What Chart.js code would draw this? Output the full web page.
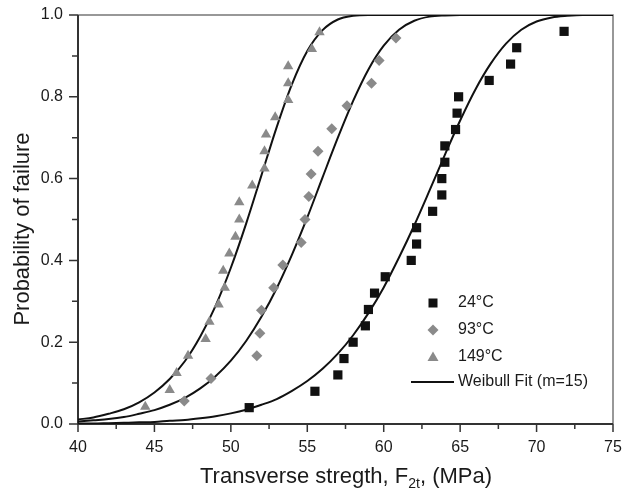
<!DOCTYPE html>
<html>
<head>
<meta charset="utf-8">
<script src="https://cdn.jsdelivr.net/npm/chart.js@4/dist/chart.umd.min.js"></script>
<style>
  html, body { margin: 0; padding: 0; background: #fff; }
</style>
</head>
<body>
<canvas id="c" width="634" height="494"></canvas>
<script>
// measured points (strength MPa, probability of failure)
var str24 = [51.2, 55.5, 57.0, 57.4, 58.0, 58.8, 59.0, 59.4, 60.1, 61.8, 62.15, 62.15, 63.2, 63.8, 63.8, 64.0, 64.0, 64.7, 64.8, 64.9, 66.9, 68.3, 68.7, 71.8];
var prob24 = [0.04, 0.08, 0.12, 0.16, 0.20, 0.24, 0.28, 0.32, 0.36, 0.40, 0.44, 0.48, 0.52, 0.56, 0.60, 0.64, 0.68, 0.72, 0.76, 0.80, 0.84, 0.88, 0.92, 0.96];

var str93 = [46.95, 48.7, 51.7, 51.9, 52.0, 52.8, 53.4, 54.6, 54.85, 55.1, 55.25, 55.7, 56.6, 57.6, 59.2, 59.7, 60.8];
var prob93 = [0.056, 0.111, 0.167, 0.222, 0.278, 0.333, 0.389, 0.444, 0.500, 0.556, 0.611, 0.667, 0.722, 0.778, 0.833, 0.889, 0.944];

var str149 = [44.4, 46.0, 46.45, 47.2, 48.35, 48.6, 49.2, 49.6, 49.5, 49.9, 50.3, 50.55, 50.55, 51.4, 52.2, 52.2, 52.3, 52.9, 53.75, 53.75, 53.75, 55.3, 55.8];
var prob149 = [0.042, 0.083, 0.125, 0.167, 0.208, 0.250, 0.292, 0.333, 0.375, 0.417, 0.458, 0.500, 0.542, 0.583, 0.625, 0.667, 0.708, 0.750, 0.792, 0.833, 0.875, 0.917, 0.958];

// fit curves, one value per MPa from 40 to 75
var fitX = [40, 41, 42, 43, 44, 45, 46, 47, 48, 49, 50, 51, 52, 53, 54, 55, 56, 57, 58, 59, 60, 61, 62, 63, 64, 65, 66, 67, 68, 69, 70, 71, 72, 73, 74, 75];
var fit149 = [0.011, 0.016, 0.025, 0.036, 0.053, 0.077, 0.110, 0.154, 0.214, 0.289, 0.382, 0.490, 0.608, 0.726, 0.831, 0.912, 0.963, 0.989, 0.998, 1, 1, 1, 1, 1, 1, 1, 1, 1, 1, 1, 1, 1, 1, 1, 1, 1];
var fit93 = [0.006, 0.009, 0.012, 0.017, 0.025, 0.034, 0.047, 0.064, 0.087, 0.117, 0.155, 0.203, 0.262, 0.332, 0.414, 0.505, 0.603, 0.700, 0.790, 0.867, 0.925, 0.964, 0.986, 0.996, 0.999, 1, 1, 1, 1, 1, 1, 1, 1, 1, 1, 1];
var fit24 = [0.001, 0.001, 0.002, 0.003, 0.004, 0.005, 0.008, 0.010, 0.014, 0.019, 0.026, 0.035, 0.047, 0.061, 0.081, 0.105, 0.135, 0.172, 0.217, 0.271, 0.334, 0.407, 0.486, 0.571, 0.658, 0.742, 0.818, 0.881, 0.930, 0.964, 0.984, 0.994, 0.998, 1, 1, 1];

var xTicks = [40, 45, 50, 55, 60, 65, 70, 75];
var yTicks = [0, 0.2, 0.4, 0.6, 0.8, 1.0];
var legendLabels = ['24°C', '93°C', '149°C', 'Weibull Fit (m=15)'];

var FONT = '"Liberation Sans", Arial, sans-serif';
var GREY = '#8a8a8a';

function pts(xs, ys) {
  return xs.map((x, i) => ({ x: x, y: ys[i] }));
}

function fitSet(ys) {
  return {
    type: 'line',
    data: pts(fitX, ys),
    borderColor: '#111',
    borderWidth: 2,
    pointRadius: 0,
    cubicInterpolationMode: 'monotone',
    fill: false,
    order: 2
  };
}

// box, minor/major ticks, titles and legend
var frame = {
  id: 'frame',
  beforeDatasetsDraw(chart) {
    var ctx = chart.ctx;
    var a = chart.chartArea;
    var xs = chart.scales.x, ys = chart.scales.y;
    ctx.save();
    ctx.strokeStyle = '#777';
    ctx.lineWidth = 1.5;
    ctx.beginPath();
    ctx.moveTo(a.left, a.top);
    ctx.lineTo(a.right, a.top);
    ctx.lineTo(a.right, a.bottom);
    ctx.stroke();
    ctx.strokeStyle = '#333';
    ctx.lineWidth = 2;
    ctx.beginPath();
    ctx.moveTo(a.left, a.top);
    ctx.lineTo(a.left, a.bottom);
    ctx.lineTo(a.right, a.bottom);
    ctx.stroke();
    ctx.lineWidth = 1.5;
    ctx.beginPath();
    for (var v = 40; v <= 75.01; v += 2.5) {
      var px = xs.getPixelForValue(v);
      var len = (v % 5 === 0) ? 8 : 5;
      ctx.moveTo(px, a.bottom);
      ctx.lineTo(px, a.bottom + len);
    }
    for (var i = 0; i <= 10; i++) {
      var py = ys.getPixelForValue(i / 10);
      var l2 = (i % 2 === 0) ? 9 : 6;
      ctx.moveTo(a.left, py);
      ctx.lineTo(a.left - l2, py);
    }
    ctx.stroke();
    ctx.restore();
  },
  afterDraw(chart) {
    var ctx = chart.ctx;
    ctx.save();
    ctx.fillStyle = '#1a1a1a';
    // y title
    ctx.font = '22px ' + FONT;
    ctx.textAlign = 'center';
    ctx.textBaseline = 'middle';
    ctx.translate(23, 229);
    ctx.rotate(-Math.PI / 2);
    ctx.fillText('Probability of failure', 0, 0);
    ctx.restore();

    // x title with subscript
    ctx.save();
    ctx.fillStyle = '#1a1a1a';
    ctx.textBaseline = 'alphabetic';
    var big = '22px ' + FONT, small = '14px ' + FONT;
    var p1 = 'Transverse stregth, F', p2 = '2t', p3 = ', (MPa)';
    ctx.font = big;
    var w1 = ctx.measureText(p1).width, w3 = ctx.measureText(p3).width;
    ctx.font = small;
    var w2 = ctx.measureText(p2).width;
    var x0 = 346 - (w1 + w2 + w3) / 2, base = 483;
    ctx.font = big;
    ctx.fillText(p1, x0, base);
    ctx.font = small;
    ctx.fillText(p2, x0 + w1, base + 5);
    ctx.font = big;
    ctx.fillText(p3, x0 + w1 + w2, base);
    ctx.restore();

    // legend
    ctx.save();
    var rows = [303, 330, 357, 382];
    var mx = 433, tx = 458;
    ctx.fillStyle = '#111';
    ctx.fillRect(mx - 4.5, rows[0] - 4.5, 9, 9);
    ctx.fillStyle = GREY;
    ctx.beginPath();
    ctx.moveTo(mx, rows[1] - 5.5);
    ctx.lineTo(mx + 5.5, rows[1]);
    ctx.lineTo(mx, rows[1] + 5.5);
    ctx.lineTo(mx - 5.5, rows[1]);
    ctx.closePath();
    ctx.fill();
    ctx.beginPath();
    ctx.moveTo(mx, rows[2] - 5.5);
    ctx.lineTo(mx + 5.5, rows[2] + 4);
    ctx.lineTo(mx - 5.5, rows[2] + 4);
    ctx.closePath();
    ctx.fill();
    ctx.strokeStyle = '#111';
    ctx.lineWidth = 2;
    ctx.beginPath();
    ctx.moveTo(411, rows[3]);
    ctx.lineTo(454, rows[3]);
    ctx.stroke();
    ctx.fillStyle = '#1a1a1a';
    ctx.font = '16px ' + FONT;
    ctx.textBaseline = 'middle';
    ctx.textAlign = 'left';
    legendLabels.forEach((t, i) => ctx.fillText(t, tx, rows[i]));
    ctx.restore();
  }
};

new Chart(document.getElementById('c'), {
  type: 'scatter',
  data: {
    datasets: [
      { label: legendLabels[0], data: pts(str24, prob24), pointStyle: 'rect', pointRadius: 6.5, backgroundColor: '#111', borderColor: '#111', borderWidth: 0, order: 1 },
      { label: legendLabels[1], data: pts(str93, prob93), pointStyle: 'rectRot', pointRadius: 5.5, backgroundColor: GREY, borderColor: GREY, borderWidth: 0, order: 1 },
      { label: legendLabels[2], data: pts(str149, prob149), pointStyle: 'triangle', pointRadius: 6, backgroundColor: GREY, borderColor: GREY, borderWidth: 0, order: 1 },
      fitSet(fit149),
      fitSet(fit93),
      fitSet(fit24)
    ]
  },
  options: {
    responsive: false,
    animation: false,
    devicePixelRatio: 1,
    layout: { padding: { left: 0, top: 15, right: 21, bottom: 0 } },
    plugins: { legend: { display: false }, tooltip: { enabled: false } },
    scales: {
      x: {
        type: 'linear', min: 40, max: 75,
        afterFit: s => { s.height = 70; s.paddingLeft = 0; s.paddingRight = 0; },
        afterBuildTicks: s => { s.ticks = xTicks.map(v => ({ value: v })); },
        grid: { display: false, drawTicks: false },
        border: { display: false },
        ticks: { padding: 14, color: '#1a1a1a', font: { family: FONT, size: 16 }, maxRotation: 0, autoSkip: false }
      },
      y: {
        type: 'linear', min: 0, max: 1,
        afterFit: s => { s.width = 78; s.paddingTop = 0; s.paddingBottom = 0; },
        afterBuildTicks: s => { s.ticks = yTicks.map(v => ({ value: v })); },
        grid: { display: false, drawTicks: false },
        border: { display: false },
        ticks: { padding: 15, color: '#1a1a1a', font: { family: FONT, size: 16 }, callback: v => v.toFixed(1) }
      }
    }
  },
  plugins: [frame]
});
</script>
</body>
</html>
